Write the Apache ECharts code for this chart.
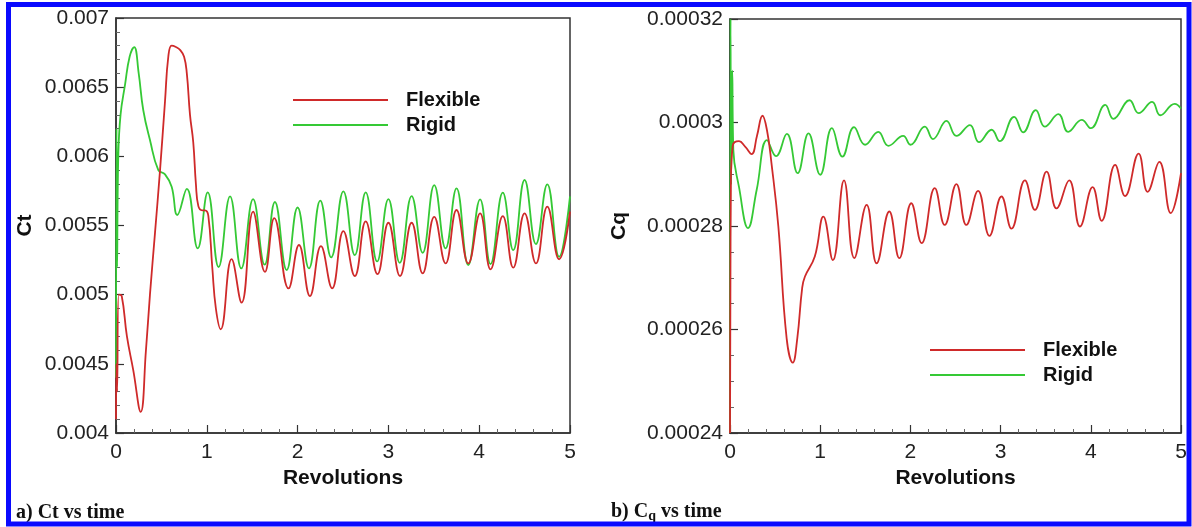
<!DOCTYPE html>
<html>
<head>
<meta charset="utf-8">
<script src="https://cdn.jsdelivr.net/npm/echarts@6/dist/echarts.min.js"></script>
<style>
html,body{margin:0;padding:0;background:#fff;}
#chart{width:1192px;height:527px;}
</style>
</head>
<body>
<div id="chart"></div>
<script>
// ---------- data (x = revolutions) ----------
const seriesNames = ['Flexible', 'Rigid'];
const xTicks = [0, 1, 2, 3, 4, 5];

const ctFlexible = [[0,0.0041],[0.005,0.0045],[0.012,0.0043],[0.03,0.0050],[0.063,0.00499],[0.12,0.0047],[0.19,0.004455],[0.272,0.004153],[0.33,0.0046],[0.374,0.00500],[0.43,0.00545],[0.485,0.0059],[0.54,0.0064],[0.576,0.00672],[0.613,0.0068],[0.66,0.00679],[0.705,0.00677],[0.75,0.00672],[0.78,0.0066],[0.815,0.0063],[0.851,0.0061],[0.88,0.0058],[0.907,0.00564],[0.95,0.00561],[0.98,0.00561],[1.017,0.00557],[1.06,0.0052],[1.1,0.0049],[1.153,0.00475],[1.273,0.005257],[1.383,0.004942],[1.51,0.0056],[1.64,0.005165],[1.743,0.005553],[1.9,0.005045],[2.015,0.005359],[2.136,0.00499],[2.257,0.005351],[2.38,0.005046],[2.504,0.00546],[2.63,0.005135],[2.75,0.00553],[2.88,0.005149],[3.0,0.00552],[3.128,0.005135],[3.256,0.00552],[3.377,0.005154],[3.505,0.005563],[3.63,0.005226],[3.75,0.005612],[3.88,0.005226],[4.01,0.005588],[4.125,0.005183],[4.26,0.005568],[4.375,0.005195],[4.5,0.005588],[4.625,0.005226],[4.75,0.005636],[4.88,0.005256],[5.0,0.0056]];

const ctRigid = [[0,0.0044],[0.006,0.0062],[0.012,0.0052],[0.025,0.0060],[0.05,0.0063],[0.1,0.00652],[0.15,0.00672],[0.2,0.00679],[0.25,0.0066],[0.3,0.006335],[0.374,0.006118],[0.466,0.0059],[0.54,0.00587],[0.613,0.00578],[0.675,0.005576],[0.78,0.005765],[0.9,0.005335],[1.01,0.00574],[1.13,0.0052],[1.256,0.00571],[1.38,0.00519],[1.51,0.00569],[1.637,0.005217],[1.75,0.00567],[1.88,0.005178],[2.0,0.00563],[2.125,0.00519],[2.25,0.00568],[2.37,0.00527],[2.504,0.005747],[2.63,0.005286],[2.75,0.00574],[2.876,0.00524],[3.0,0.00569],[3.125,0.00523],[3.256,0.005713],[3.377,0.005303],[3.505,0.005792],[3.63,0.005335],[3.75,0.005768],[3.88,0.005214],[4.01,0.005689],[4.125,0.005221],[4.26,0.005737],[4.375,0.005322],[4.5,0.005829],[4.625,0.005366],[4.75,0.005798],[4.88,0.005274],[5.0,0.00571]];

const cqFlexible = [[0,0.000240],[0.01,0.000288],[0.03,0.0002955],[0.1,0.0002964],[0.17,0.0002953],[0.24,0.0002939],[0.3,0.0002975],[0.36,0.0003013],[0.41,0.0002985],[0.46,0.0002921],[0.536,0.0002799],[0.628,0.0002583],[0.696,0.0002536],[0.746,0.0002583],[0.8,0.000268],[0.83,0.0002702],[0.94,0.0002741],[1.035,0.0002818],[1.14,0.0002734],[1.264,0.0002888],[1.378,0.0002738],[1.515,0.0002841],[1.626,0.0002728],[1.766,0.0002828],[1.877,0.0002738],[2.01,0.0002844],[2.125,0.0002767],[2.27,0.0002873],[2.38,0.0002802],[2.51,0.0002881],[2.62,0.0002802],[2.75,0.0002868],[2.876,0.0002781],[3.01,0.0002857],[3.12,0.0002795],[3.27,0.0002888],[3.38,0.0002831],[3.51,0.0002905],[3.62,0.0002834],[3.76,0.0002888],[3.88,0.0002799],[4.02,0.0002875],[4.12,0.000281],[4.27,0.0002918],[4.38,0.0002858],[4.53,0.000294],[4.63,0.0002866],[4.76,0.0002924],[4.886,0.0002825],[5.0,0.0002902]];

const cqRigid = [[0,0.000240],[0.006,0.000320],[0.012,0.000288],[0.025,0.000310],[0.037,0.0002947],[0.1,0.0002875],[0.2,0.0002796],[0.296,0.000287],[0.41,0.0002966],[0.51,0.0002935],[0.63,0.0002978],[0.75,0.0002902],[0.87,0.0002979],[1.0,0.0002899],[1.13,0.0002989],[1.246,0.0002934],[1.375,0.0002991],[1.497,0.0002957],[1.644,0.0002982],[1.755,0.0002955],[1.92,0.0002974],[2.0,0.0002957],[2.16,0.0002992],[2.25,0.0002968],[2.40,0.0003003],[2.51,0.0002974],[2.66,0.0002995],[2.76,0.0002962],[2.90,0.0002986],[2.99,0.0002964],[3.15,0.0003011],[3.25,0.0002981],[3.39,0.0003024],[3.49,0.0002992],[3.64,0.0003016],[3.75,0.0002982],[3.90,0.0003005],[4.0,0.0002989],[4.16,0.0003034],[4.25,0.0003007],[4.43,0.0003043],[4.53,0.0003018],[4.68,0.000304],[4.77,0.0003014],[4.93,0.0003036],[5.0,0.0003027]];

// ---------- styling ----------
const SANS = '"Liberation Sans", Arial, sans-serif';
const SERIF = '"Liberation Serif", "Times New Roman", serif';
const RED = '#cf2a2a';
const GREEN = '#35c935';
const AX = '#333';

function xAxisCfg(gridIndex) {
  return {
    type: 'value', gridIndex: gridIndex, min: 0, max: 5, interval: 1,
    name: 'Revolutions', nameLocation: 'middle', nameGap: 31,
    nameTextStyle: { fontFamily: SANS, fontSize: 21, fontWeight: 'bold', color: '#111' },
    axisLine: { show: true, lineStyle: { color: AX, width: 1.5 } },
    axisTick: { show: true, inside: true, length: 8, lineStyle: { color: AX, width: 1.2 } },
    minorTick: { show: true, splitNumber: 5, length: 4, lineStyle: { color: '#666', width: 1 } },
    splitLine: { show: false },
    axisLabel: { fontFamily: SANS, fontSize: 21, color: '#222', margin: 9,
      formatter: v => xTicks.indexOf(v) >= 0 ? String(v) : '' }
  };
}
function yAxisCfg(gridIndex, name, min, max, interval, prec, minorSplit, gap) {
  return {
    type: 'value', gridIndex: gridIndex, min: min, max: max, interval: interval,
    name: name, nameLocation: 'middle', nameGap: gap,
    nameTextStyle: { fontFamily: SANS, fontSize: 21, fontWeight: 'bold', color: '#111' },
    axisLine: { show: true, lineStyle: { color: AX, width: 1.5 } },
    axisTick: { show: true, inside: true, length: 8, lineStyle: { color: AX, width: 1.2 } },
    minorTick: { show: true, splitNumber: minorSplit, length: 4, lineStyle: { color: '#666', width: 1 } },
    splitLine: { show: false },
    axisLabel: { fontFamily: SANS, fontSize: 21, color: '#222', margin: 7,
      formatter: v => String(parseFloat(Number(v).toPrecision(prec))) }
  };
}
function lineSeries(name, data, color, xi, yi) {
  return {
    type: 'line', name: name, data: data, xAxisIndex: xi, yAxisIndex: yi,
    symbol: 'none', showSymbol: false, smooth: 0.45,
    lineStyle: { color: color, width: 1.8 }, itemStyle: { color: color },
    z: name === 'Flexible' ? 3 : 2
  };
}
function legendCfg(left, top) {
  return {
    data: seriesNames, orient: 'vertical', left: left, top: top, padding: 0,
    icon: 'rect', itemWidth: 95, itemHeight: 2, itemGap: 5, selectedMode: false,
    textStyle: { fontFamily: SANS, fontSize: 20, fontWeight: 'bold', color: '#111', lineHeight: 20, padding: [0, 0, 0, 13] }
  };
}

const chart = echarts.init(document.getElementById('chart'), null, { renderer: 'canvas' });
chart.setOption({
  backgroundColor: '#fff',
  animation: false,
  grid: [
    { left: 116, top: 18, width: 454, height: 415, show: true, borderColor: AX, borderWidth: 1.5, backgroundColor: 'transparent' },
    { left: 730, top: 19, width: 451, height: 414, show: true, borderColor: AX, borderWidth: 1.5, backgroundColor: 'transparent' }
  ],
  xAxis: [xAxisCfg(0), xAxisCfg(1)],
  yAxis: [
    yAxisCfg(0, 'Ct', 0.004, 0.007, 0.0005, 3, 5, 80),
    yAxisCfg(1, 'Cq', 0.00024, 0.00032, 0.00002, 2, 4, 100)
  ],
  legend: [legendCfg(293, 90), legendCfg(930, 340)],
  series: [
    lineSeries('Rigid', ctRigid, GREEN, 0, 0),
    lineSeries('Flexible', ctFlexible, RED, 0, 0),
    lineSeries('Rigid', cqRigid, GREEN, 1, 1),
    lineSeries('Flexible', cqFlexible, RED, 1, 1)
  ],
  graphic: [
    { type: 'rect', shape: { x: 8.5, y: 4.5, width: 1180.5, height: 519.5 },
      style: { fill: 'none', stroke: '#0a0aff', lineWidth: 5 }, silent: true, z: 100 },
    { type: 'text', left: 16, top: 503, style: { text: 'a) Ct vs time', font: 'bold 20px ' + SERIF, fill: '#111' } },
    { type: 'text', left: 611, top: 502, style: {
        text: '{n|b) C}{s|q}{n| vs time}',
        rich: {
          n: { fontFamily: SERIF, fontSize: 20, fontWeight: 'bold', fill: '#111', lineHeight: 22 },
          s: { fontFamily: SERIF, fontSize: 14, fontWeight: 'bold', fill: '#111', lineHeight: 10, verticalAlign: 'bottom' }
        } } }
  ]
});
</script>
</body>
</html>
